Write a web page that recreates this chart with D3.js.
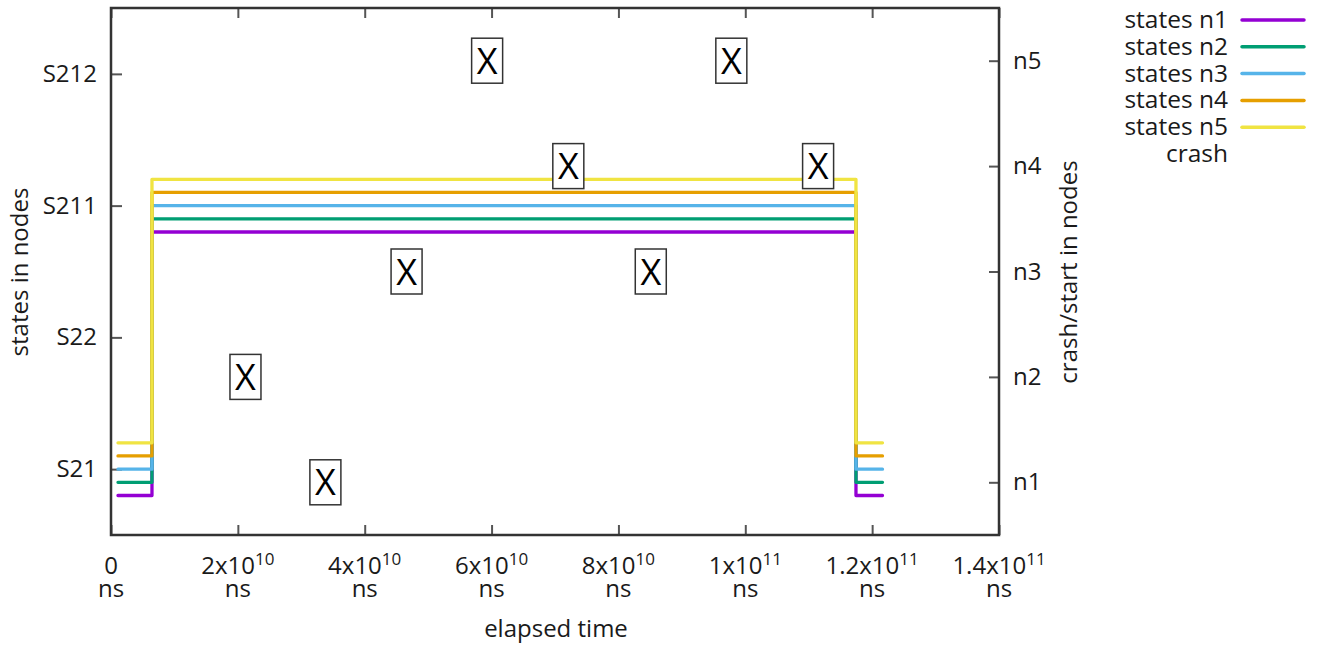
<!DOCTYPE html>
<html><head><meta charset="utf-8">
<script src="https://cdn.jsdelivr.net/npm/d3@7"></script>
<style>
body{margin:0;background:#fff;}
text{font-family:"Open Sans",sans-serif;fill:#1a1a1a;}
</style></head>
<body><svg id="c" width="1319" height="645"></svg>
<script>
// ---- data ----
const stateCategories = ["S21","S22","S211","S212"];
const nodeCategories = ["n1","n2","n3","n4","n5"];
const seriesNames = ["states n1","states n2","states n3","states n4","states n5"];
const seriesColors = ["#9400d3","#009e73","#56b4e9","#e69f00","#f0e442"];
const stepTimes = [1.1e9, 6.46e9, 1.1745e11, 1.2163e11];
const statesN1 = ["S21","S211","S21","S21"];
const statesN2 = ["S21","S211","S21","S21"];
const statesN3 = ["S21","S211","S21","S21"];
const statesN4 = ["S21","S211","S21","S21"];
const statesN5 = ["S21","S211","S21","S21"];
const crashTimes = [5.93e10, 9.78e10, 7.21e10, 1.1148e11, 4.66e10, 8.51e10, 2.12e10, 3.38e10];
const crashNodes = ["n5","n5","n4","n4","n3","n3","n2","n1"];
const xTicks = [0, 2e10, 4e10, 6e10, 8e10, 1e11, 1.2e11, 1.4e11];
const xTickMantissa = ["0","2","4","6","8","1","1.2","1.4"];
const xTickExponent = ["","10","10","10","10","11","11","11"];

// ---- layout ----
const L = 111, R = 999, T = 8, B = 535;
const svg = d3.select("#c");
const x = d3.scaleLinear().domain([0, 1.4e11]).range([L, R]);
const yS = d3.scaleLinear().domain([-0.5, 3.5]).range([B, T]);
const yN = d3.scaleLinear().domain([0.5, 5.5]).range([B, T]);
const tickColor = "#555";

// axes via d3.axis (inward ticks)
const gx = svg.append("g").attr("transform", `translate(0,${B})`)
  .call(d3.axisBottom(x).tickValues(xTicks).tickSize(-10).tickFormat(""));
const gx2 = svg.append("g").attr("transform", `translate(0,${T})`)
  .call(d3.axisTop(x).tickValues(xTicks).tickSize(-10).tickFormat(""));
const gyL = svg.append("g").attr("transform", `translate(${L},0)`)
  .call(d3.axisLeft(yS).tickValues(d3.range(stateCategories.length)).tickSize(-11).tickFormat(""));
const gyR = svg.append("g").attr("transform", `translate(${R},0)`)
  .call(d3.axisRight(yN).tickValues(d3.range(1, nodeCategories.length + 1)).tickSize(-10).tickFormat(""));
[gx, gx2, gyL, gyR].forEach(g => {
  g.select(".domain").remove();
  g.selectAll(".tick line").attr("stroke", tickColor).attr("stroke-width", 2);
});

// tick labels bottom (two lines in one text element)
svg.append("g").selectAll("text").data(xTicks).join("text")
  .attr("x", d => x(d)).attr("y", 574).attr("text-anchor", "middle")
  .style("font-size", "24px")
  .each(function(d, i) {
    const t = d3.select(this);
    if (xTickExponent[i]) {
      t.append("tspan").text(xTickMantissa[i] + "x10");
      t.append("tspan").attr("dy", -9).style("font-size", "17px").text(xTickExponent[i]);
      t.append("tspan").attr("x", x(d)).attr("dy", 32).text("ns");
    } else {
      t.append("tspan").text(xTickMantissa[i]);
      t.append("tspan").attr("x", x(d)).attr("dy", 23).text("ns");
    }
  });

// left tick labels
svg.append("g").selectAll("text").data(stateCategories).join("text")
  .attr("x", 97).attr("y", (d, i) => yS(i) + 8).attr("text-anchor", "end")
  .style("font-size", "24px").text(d => d);
// right tick labels
svg.append("g").selectAll("text").data(nodeCategories).join("text")
  .attr("x", 1013).attr("y", (d, i) => yN(i + 1) + 8).attr("text-anchor", "start")
  .style("font-size", "24px").text(d => d);

// axis titles
svg.append("text").attr("x", 556).attr("y", 637).attr("text-anchor", "middle")
  .style("font-size", "24px").text("elapsed time");
svg.append("text").attr("transform", "translate(28,272) rotate(-90)").attr("text-anchor", "middle")
  .style("font-size", "24px").text("states in nodes");
svg.append("text").attr("transform", "translate(1077,272) rotate(-90)").attr("text-anchor", "middle")
  .style("font-size", "24px").text("crash/start in nodes");

// series
const allStates = [statesN1, statesN2, statesN3, statesN4, statesN5];
const line = d3.line().curve(d3.curveStepAfter);
allStates.forEach((st, k) => {
  const off = (k - 2) * 0.1;
  const pts = stepTimes.map((t, i) => [x(t), yS(stateCategories.indexOf(st[i]) + off)]);
  svg.append("path").attr("d", line(pts)).attr("fill", "none")
    .attr("stroke", seriesColors[k]).attr("stroke-width", 3.3)
    .attr("stroke-linecap", "round").attr("stroke-linejoin", "round");
});

// crash markers
const cm = svg.append("g").selectAll("g").data(crashTimes).join("g")
  .attr("transform", (d, i) => `translate(${x(d)},${yN(nodeCategories.indexOf(crashNodes[i]) + 1)})`);
cm.append("rect").attr("x", -15.5).attr("y", -22.5).attr("width", 31).attr("height", 45)
  .attr("fill", "#fff").attr("stroke", "#333").attr("stroke-width", 1.5);
cm.append("text").attr("x", 0).attr("y", 13).attr("text-anchor", "middle")
  .style("font-size", "36px").style("fill", "#000").text("X");

// border
svg.append("rect").attr("x", L).attr("y", T).attr("width", R - L).attr("height", B - T)
  .attr("fill", "none").attr("stroke", "#333").attr("stroke-width", 2.5);

// legend
const legendLabels = seriesNames.concat(["crash"]);
const lg = svg.append("g").selectAll("g").data(legendLabels).join("g")
  .attr("transform", (d, i) => `translate(0,${20 + i * 26.8})`);
lg.append("text").attr("x", 1228).attr("y", 8).attr("text-anchor", "end")
  .style("font-size", "24.5px").text(d => d);
lg.filter((d, i) => i < seriesColors.length).append("line")
  .attr("x1", 1242).attr("x2", 1304).attr("y1", 0).attr("y2", 0)
  .attr("stroke", (d, i) => seriesColors[i]).attr("stroke-width", 3.5).attr("stroke-linecap", "round");
</script></body></html>
